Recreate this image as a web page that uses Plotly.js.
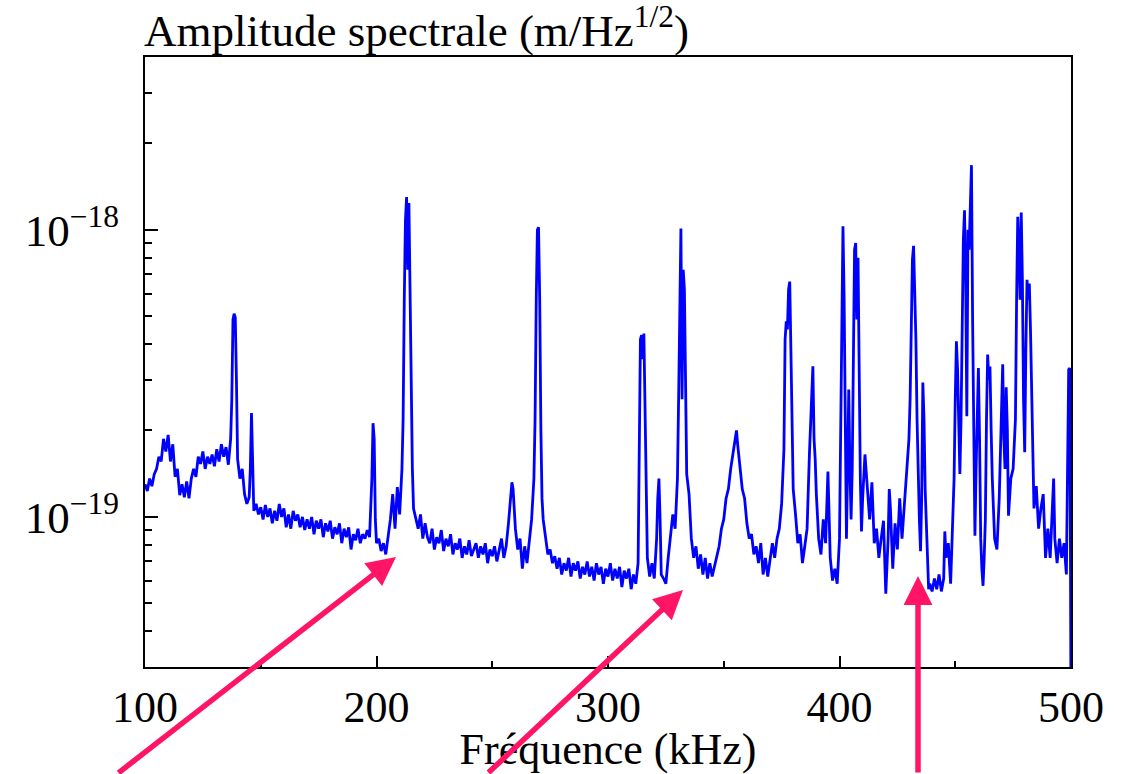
<!DOCTYPE html>
<html>
<head>
<meta charset="utf-8">
<script src="https://cdn.plot.ly/plotly-3.0.1.min.js"></script>
<style>html,body{margin:0;padding:0;background:#fff;}#chart{width:1124px;height:774px;}</style>
</head>
<body>
<div id="chart"></div>
<script>
// Frequency in kHz
const frequency = [100,101,102,103,104,105,106,107,108,109,110,111,112,113,114,115,116,117,118,119,120,121,122,123,124,125,126,127,128,129,130,131,132,133,134,135,136,137,137.5,138,138.5,139,139.5,140,141,142,143,144,145,145.5,146,146.5,147,148,149,150,151,152,153,154,155,156,157,158,159,160,161,162,163,164,165,166,167,168,169,170,171,172,173,174,175,176,177,178,179,180,181,182,183,184,185,186,187,188,189,190,191,192,193,194,195,196,197,198,198.5,199,199.5,200,201,202,203,204,205,206,207,208,209,210,211,211.5,212,212.5,213,213.5,214,214.5,215,215.5,216,217,218,219,220,221,222,223,224,225,226,227,228,229,230,231,232,233,234,235,236,237,238,239,240,241,242,243,244,245,246,247,248,249,250,251,252,253,254,255,256,257,258,258.5,259,260,261,262,263,264,265,266,267,268,268.5,269,269.5,270,270.5,271,271.5,272,273,274,275,276,277,278,279,280,281,282,283,284,285,286,287,288,289,290,291,292,293,294,295,296,297,298,299,300,301,302,303,304,305,306,307,308,309,310,311,312,313,313.5,314,314.5,315,315.5,316,316.5,317,318,319,320,321,321.5,322,322.5,323,324,325,326,327,328,329,330,330.5,331,331.5,332,332.5,333,333.5,334,335,336,337,338,339,340,341,342,343,344,345,346,347,348,349,350,351,352,353,354,355,355.5,356,357,358,359,360,361,362,363,364,365,366,367,368,369,370,371,372,373,374,375,376,376.5,377,377.5,378,378.5,379,379.5,380,381,382,383,384,385,386,387,387.5,388,388.5,389,389.5,390,391,392,393,394,395,396,397,398,399,400,400.5,401,401.5,402,402.5,403,403.5,404,404.5,405,405.5,406,406.5,407,407.5,408,408.5,409,409.5,410,411,412,413,414,415,416,417,418,419,420,421,421.5,422,423,424,425,426,427,428,429,430,430.5,431,431.5,432,432.5,433,433.5,434,434.5,435,435.5,436,436.5,437,437.5,438,438.5,439,440,441,442,443,444,445,445.5,446,447,448,449,449.5,450,450.5,451,451.5,452,452.5,453,453.5,454,454.5,455,455.5,456,456.5,457,457.5,458,458.5,459,459.5,460,460.5,461,461.5,462,462.5,463,463.5,464,464.5,465,465.5,466,467,468,469,470,470.5,471,471.5,472,472.5,473,474,475,476,476.5,477,477.5,478,478.5,479,479.5,480,480.5,481,481.5,482,482.5,483,483.5,484,485,486,487,488,489,490,491,492,492.5,493,494,495,496,497,498,499,499.5,500];

// Spectral amplitude, in units of 1e-19 m/Hz^(1/2)
const amplitudeE19 = [1.30,1.23,1.36,1.28,1.41,1.47,1.62,1.56,1.87,1.69,1.93,1.56,1.79,1.38,1.47,1.19,1.30,1.17,1.33,1.16,1.36,1.47,1.38,1.62,1.53,1.69,1.47,1.62,1.53,1.65,1.50,1.72,1.56,1.79,1.62,1.75,1.52,1.87,2.57,4.87,5.1,4.95,3.0,1.59,1.36,1.47,1.20,1.11,1.17,1.47,2.3,1.47,1.05,1.11,1.02,1.08,0.98,1.10,1.00,1.07,0.95,1.05,0.97,1.11,1.00,1.07,0.92,1.02,0.91,1.05,0.97,1.02,0.92,1.00,0.90,0.98,0.91,1.00,0.87,0.97,0.91,0.98,0.85,0.95,0.89,0.97,0.84,0.92,0.87,0.95,0.81,0.91,0.85,0.92,0.77,0.87,0.83,0.91,0.81,0.87,0.84,0.90,0.85,1.36,2.12,1.87,0.98,0.81,0.84,0.76,0.81,0.74,0.84,0.98,1.20,0.91,1.27,1.02,1.47,2.19,5.71,10.8,13.0,7.26,12.4,5.71,2.57,1.47,1.07,0.98,0.91,1.02,0.84,0.95,0.85,0.81,0.91,0.77,0.85,0.81,0.90,0.76,0.84,0.79,0.87,0.74,0.81,0.77,0.84,0.72,0.79,0.74,0.83,0.73,0.77,0.81,0.72,0.79,0.74,0.81,0.69,0.77,0.73,0.79,0.70,0.76,0.84,0.72,0.79,0.95,1.20,1.32,1.25,0.91,0.77,0.84,0.66,0.79,0.69,0.81,0.98,1.36,2.19,5.71,10.0,10.2,5.71,2.02,1.16,0.98,0.84,0.74,0.77,0.69,0.73,0.66,0.72,0.63,0.69,0.65,0.72,0.62,0.69,0.65,0.70,0.61,0.67,0.63,0.70,0.62,0.67,0.60,0.69,0.63,0.67,0.585,0.66,0.62,0.69,0.60,0.66,0.61,0.67,0.57,0.65,0.61,0.66,0.56,0.63,0.585,0.69,1.36,4.15,4.3,3.54,4.35,2.19,0.98,0.72,0.62,0.69,0.61,0.84,1.16,1.36,0.98,0.63,0.61,0.585,0.72,0.87,1.02,0.91,1.36,2.57,6.70,10.1,2.57,7.26,6.19,3.0,1.41,1.20,0.84,0.72,0.79,0.66,0.74,0.63,0.72,0.61,0.69,0.62,0.67,0.72,0.79,0.91,0.98,1.16,1.25,1.47,1.65,1.87,2.0,1.79,1.47,1.25,1.16,0.95,0.84,0.87,0.74,0.79,0.69,0.81,0.63,0.72,0.62,0.70,0.81,0.72,0.84,0.91,1.11,1.72,4.15,4.8,4.5,6.19,6.6,3.83,1.72,1.25,1.02,0.81,0.87,0.69,0.79,0.91,1.65,2.19,2.57,3.35,1.87,1.59,1.20,0.84,0.74,0.98,0.81,1.44,0.72,0.60,0.66,0.585,0.84,2.19,6.19,10.3,5.71,1.59,0.84,1.47,2.78,1.47,0.98,1.47,4.49,8.52,9.0,4.87,8.0,2.57,1.36,0.89,1.16,1.65,1.25,0.98,1.32,0.81,0.91,0.72,0.84,0.97,0.54,0.84,1.25,1.07,0.66,0.95,0.77,1.16,0.84,1.07,1.41,1.87,2.57,4.87,7.87,8.8,6.19,4.15,2.19,1.36,0.98,0.76,1.16,2.94,2.19,1.25,0.91,0.72,0.56,0.585,0.55,0.61,0.56,0.63,0.55,0.61,0.89,0.72,0.81,0.585,0.98,1.36,2.57,4.09,3.26,2.02,1.41,2.19,4.87,9.23,11.7,6.70,2.24,10.0,8.52,12.7,16.8,4.87,1.72,0.86,1.47,2.57,3.3,1.87,0.84,0.66,0.575,0.72,0.98,2.19,3.68,3.01,3.34,2.02,1.36,0.84,0.77,1.16,2.19,3.4,1.87,1.47,2.83,2.02,1.01,1.36,1.47,2.19,5.71,11.1,8.52,5.71,11.5,6.70,2.57,1.68,3.83,6.70,5.71,6.5,4.49,2.57,1.59,1.07,1.28,0.91,1.07,1.20,0.72,0.91,0.72,1.16,1.36,0.84,0.69,0.84,0.72,0.81,0.63,3.26,3.3,0.2];
const AMP_UNIT = 1e-19;

const xTicks = [100, 200, 300, 400, 500];
const xMinorTicks = [150, 250, 350, 450];
const yTicks = [1e-19, 1e-18];
const yTickLabels = ['10<sup>\u221219</sup>', '10<sup>\u221218</sup>'];
const yMinorTicks = [3e-20,4e-20,5e-20,6e-20,7e-20,8e-20,9e-20,2e-19,3e-19,4e-19,5e-19,6e-19,7e-19,8e-19,9e-19,2e-18,3e-18,4e-18];
const yRange = [3e-20, 4e-18];
const xRange = [100, 500];

const titleText = 'Amplitude spectrale (m/Hz<sup>1/2</sup>)';
const xTitleText = 'Fréquence (kHz)';

const amplitude = amplitudeE19.map(v => v * AMP_UNIT);
const FONT = '"Liberation Serif", "Times New Roman", serif';
const PINK = '#FF1466';

const trace = {
  x: frequency, y: amplitude, type: 'scatter', mode: 'lines',
  line: {color: '#0000FF', width: 2.8}, hoverinfo: 'skip'
};

function arrow(tipX, tipY, tailX, tailY) {
  return {xref: 'paper', yref: 'paper', x: (tipX - 145) / 926, y: (667 - tipY) / 610,
    text: '', showarrow: true, axref: 'pixel', ayref: 'pixel',
    ax: tailX - tipX, ay: tailY - tipY, arrowcolor: PINK, arrowwidth: 5.5,
    arrowhead: 2, arrowsize: 1.05, standoff: 0};
}

const layout = {
  width: 1124, height: 774,
  margin: {l: 145, r: 53, t: 57, b: 107, pad: 0},
  paper_bgcolor: '#fff', plot_bgcolor: '#fff',
  showlegend: false,
  font: {family: FONT, size: 44, color: '#000'},
  xaxis: {
    range: xRange, showgrid: false, zeroline: false,
    showline: true, linecolor: '#000', linewidth: 2, mirror: true,
    tickmode: 'array', tickvals: xTicks, ticktext: xTicks.map(String),
    ticks: 'inside', ticklen: 11, tickwidth: 2, tickcolor: '#000',
    minor: {tickmode: 'array', tickvals: xMinorTicks, ticks: 'inside', ticklen: 6, tickwidth: 2, tickcolor: '#000', showgrid: false},
    tickfont: {family: FONT, size: 44, color: '#000'},
    title: {text: xTitleText, font: {family: FONT, size: 44, color: '#000'}, standoff: 0}
  },
  yaxis: {
    type: 'log', range: [Math.log10(yRange[0]), Math.log10(yRange[1])],
    showgrid: false, zeroline: false,
    showline: true, linecolor: '#000', linewidth: 2, mirror: true,
    tickmode: 'array', tickvals: yTicks, ticktext: yTickLabels,
    ticks: 'inside', ticklen: 13, tickwidth: 2, tickcolor: '#000',
    ticklabelstandoff: 15,
    minor: {tickmode: 'array', tickvals: yMinorTicks, ticks: 'inside', ticklen: 7, tickwidth: 2, tickcolor: '#000', showgrid: false},
    tickfont: {family: FONT, size: 45, color: '#000'}
  },
  annotations: [
    {xref: 'paper', yref: 'paper', x: 0, y: 1, xanchor: 'left', yanchor: 'bottom', xshift: -3,
     text: titleText, showarrow: false, font: {family: FONT, size: 45, color: '#000'}, yshift: -1},
    arrow(396, 557, 117, 774),
    arrow(683, 590, 487, 774),
    arrow(918, 576, 918, 774)
  ]
};

Plotly.newPlot('chart', [trace], layout, {displayModeBar: false, staticPlot: true});
</script>
</body>
</html>
